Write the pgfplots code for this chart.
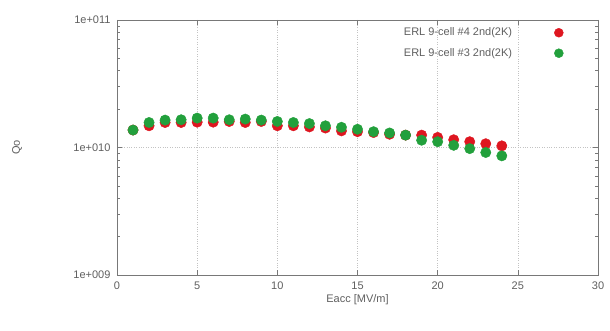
\documentclass[border=0pt]{standalone}
\usepackage{pgfplots}
\pgfplotsset{compat=1.18}
\usepackage{fontspec}
\setmainfont{Liberation Sans}
\definecolor{txt}{RGB}{95,95,95}
\definecolor{ax}{RGB}{120,120,120}
\definecolor{grd}{RGB}{195,195,195}
\definecolor{dred}{RGB}{222,22,32}
\definecolor{dgreen}{RGB}{34,160,60}
\begin{document}
\begin{tikzpicture}[x=1pt,y=1pt]
\path[use as bounding box] (0,0) rectangle (610,330);
\begin{axis}[
  at={(117pt,55pt)}, anchor=south west,
  scale only axis, width=481pt, height=255pt,
  xmin=0, xmax=30, ymode=log, ymin=1e9, ymax=1e11,
  xtick={0,5,10,15,20,25,30},
  ytick={1e9,1e10,1e11},
  yticklabels={1e+009,1e+010,1e+011},
  minor ytick={2e9,3e9,4e9,5e9,6e9,7e9,8e9,9e9,2e10,3e10,4e10,5e10,6e10,7e10,8e10,9e10},
  grid=major,
  major grid style={grd, dotted, line width=0.6pt},
  minor grid style={draw=none},
  axis line style={ax, line width=0.6pt},
  tick style={ax, line width=0.5pt},
  major tick length=5pt, minor tick length=3pt,
  tick align=inside,
  /pgf/number format/assume math mode=true,
  tick label style={font=\fontsize{11}{13}\selectfont, text=txt},
  xticklabel style={yshift=-3pt},
  yticklabel style={xshift=-3pt},
  xlabel={Eacc [MV/m]},
  ylabel={Qo},
  label style={font=\fontsize{11}{13}\selectfont, text=txt},
  xlabel style={yshift=2pt},
  every axis y label/.append style={at={(-0.19,0.5)}},
  legend style={draw=none, fill=none, at={(0.935,0.985)}, anchor=north east,
    font=\fontsize{11}{13}\selectfont, text=txt, row sep=7pt, column sep=40pt},
  legend cell align=right,
  legend plot pos=right,
  legend image code/.code={\fill[#1] (0pt,0pt) circle (4.5pt);},
]
\addplot[only marks, mark=*, mark size=5.2pt, color=dred, mark options={draw=dred, fill=dred}] coordinates {
(1,1.37e10)(2,1.48e10)(3,1.57e10)(4,1.57e10)(5,1.58e10)(6,1.58e10)(7,1.60e10)(8,1.57e10)
(9,1.60e10)(10,1.48e10)(11,1.48e10)(12,1.45e10)(13,1.42e10)(14,1.35e10)(15,1.33e10)(16,1.31e10)
(17,1.27e10)(18,1.25e10)(19,1.25e10)(20,1.20e10)(21,1.15e10)(22,1.11e10)(23,1.07e10)(24,1.03e10)};
\addlegendentry{ERL 9-cell \#4 2nd(2K)}
\addplot[only marks, mark=*, mark size=5.2pt, color=dgreen, mark options={draw=dgreen, fill=dgreen}] coordinates {
(1,1.37e10)(2,1.57e10)(3,1.64e10)(4,1.65e10)(5,1.70e10)(6,1.70e10)(7,1.65e10)(8,1.67e10)
(9,1.64e10)(10,1.60e10)(11,1.57e10)(12,1.54e10)(13,1.48e10)(14,1.44e10)(15,1.39e10)(16,1.33e10)
(17,1.30e10)(18,1.25e10)(19,1.14e10)(20,1.11e10)(21,1.04e10)(22,0.98e10)(23,0.914e10)(24,0.86e10)};
\addlegendentry{ERL 9-cell \#3 2nd(2K)}
\end{axis}
\end{tikzpicture}
\end{document}
